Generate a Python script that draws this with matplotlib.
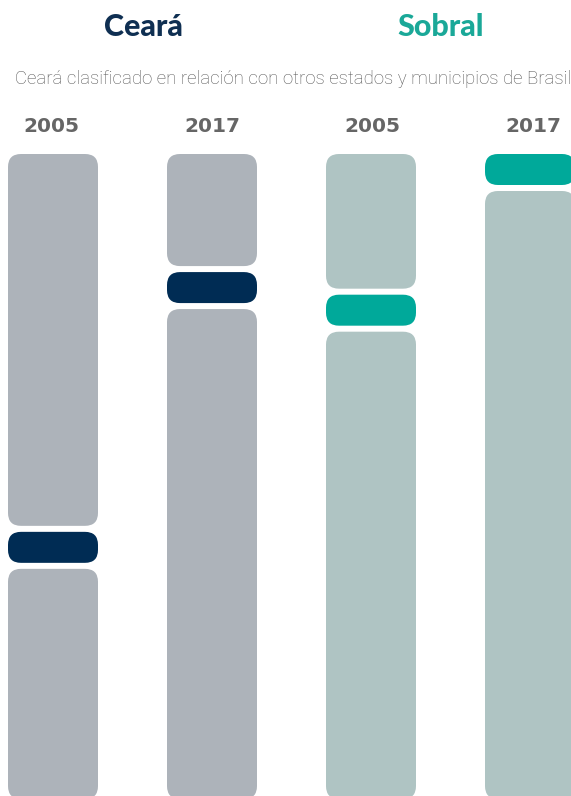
import matplotlib.pyplot as plt
from matplotlib.patches import FancyBboxPatch

# ranking data
groups = ['Ceará', 'Ceará', 'Sobral', 'Sobral']
years = ['2005', '2017', '2005', '2017']
ranks = [17, 6, 1277, 1]
totals = [27, 27, 5570, 5570]

block_colors = ['#adb3ba', '#adb3ba', '#afc4c3', '#afc4c3']
marker_colors = ['#002c54', '#002c54', '#00a99a', '#00a99a']

W, H = 571, 796
fig = plt.figure(figsize=(W / 100, H / 100), dpi=100)

# plot area: from y=154 px down to just past the bottom edge
top_px, bot_px = 154, 799
ax = fig.add_axes([0, (H - bot_px) / H, 1, (bot_px - top_px) / H])
ax.set_xlim(0, W)
ax.set_ylim(1, 0)
ax.axis('off')

px = 1 / (bot_px - top_px)   # one pixel in y units
mh = 31 * px                 # marker height
gap = 6 * px
bar_w = 90
centers = [53, 212, 371, 530]
radius = 13


def rbox(x, y0, y1, color):
    ax.add_patch(FancyBboxPatch((x - bar_w / 2, y0), bar_w, y1 - y0,
                                boxstyle=f'round,pad=0,rounding_size={radius}',
                                mutation_aspect=px, fc=color, ec='none',
                                clip_on=False))


for i in range(len(ranks)):
    pos = (ranks[i] - 1) / (totals[i] - 1) * (1 - mh)
    x = centers[i]
    if pos - gap > 0.01:
        rbox(x, 0, pos - gap, block_colors[i])
    rbox(x, pos, pos + mh, marker_colors[i])
    rbox(x, pos + mh + gap, 1.0, block_colors[i])

# titles
fig.text(143 / W, 1 - 27 / H, 'Ceará', ha='center', va='center',
         fontsize=22, fontweight='black', color='#0f2f52', family='Lato')
fig.text(441 / W, 1 - 27 / H, 'Sobral', ha='center', va='center',
         fontsize=22, fontweight='black', color='#1aa898', family='Lato')
fig.text(293 / W, 1 - 79 / H,
         'Ceará clasificado en relación con otros estados y municipios de Brasil',
         ha='center', va='center', fontsize=13.4, color='#555555',
         family='Roboto', fontweight='light')

year_x = [51, 212, 372, 533]
for i, yr in enumerate(years):
    fig.text(year_x[i] / W, 1 - 126 / H, yr, ha='center', va='center',
             fontsize=14.5, fontweight='bold', color='#666666',
             family='DejaVu Sans')

fig.savefig('out.png', dpi=100)
